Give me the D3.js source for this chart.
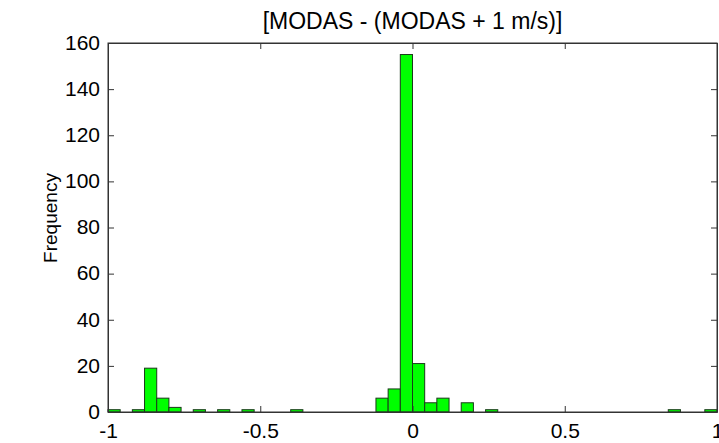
<!DOCTYPE html>
<html><head><meta charset="utf-8">
<script src="https://cdn.jsdelivr.net/npm/d3@7"></script>
<style>body{margin:0;background:#fff;} svg{display:block;}</style>
</head><body>
<script>
const title = "[MODAS - (MODAS + 1 m/s)]";
const yLabel = "Frequency";
// bin left edges (width 0.04) and counts
const binStart = [-1.00,-0.92,-0.88,-0.84,-0.80,-0.72,-0.64,-0.56,-0.40,-0.12,-0.08,-0.04,0.00,0.04,0.08,0.16,0.24,0.84,0.96];
const counts   = [1,1,19,6,2,1,1,1,1,6,10,155,21,4,6,4,1,1,1];
const binWidth = 0.04;
const xTicks = [-1,-0.5,0,0.5,1];
const xTickLabels = ["-1","-0.5","0","0.5","1"];
const yTicks = [0,20,40,60,80,100,120,140,160];

const W=719,H=443;
const m={l:108,r:2,t:43,b:31};
const svg=d3.select("body").append("svg").attr("width",W).attr("height",H);
const x=d3.scaleLinear().domain([-1,1]).range([m.l,W-m.r]);
const y=d3.scaleLinear().domain([0,160]).range([H-m.b,m.t]);
const font="'Liberation Sans', Arial, sans-serif";
const axCol="#333";

svg.append("g").selectAll("rect").data(binStart).join("rect")
  .attr("x",(d)=>x(d)).attr("width",(d)=>x(d+binWidth)-x(d))
  .attr("y",(d,i)=>y(counts[i])).attr("height",(d,i)=>y(0)-y(counts[i]))
  .attr("fill","#00ff00").attr("stroke","#1a3a1a").attr("stroke-width",1);

// frame
svg.append("rect").attr("x",x(-1)).attr("y",y(160)).attr("width",x(1)-x(-1)).attr("height",y(0)-y(160))
  .attr("fill","none").attr("stroke",axCol).attr("stroke-width",1);

const tl=6;
const xb=svg.append("g").attr("transform",`translate(0,${y(0)})`)
  .call(d3.axisBottom(x).tickValues(xTicks).tickFormat((d,i)=>xTickLabels[i]).tickSizeInner(-tl).tickSizeOuter(0).tickPadding(11));
const xt=svg.append("g").attr("transform",`translate(0,${y(160)})`)
  .call(d3.axisTop(x).tickValues(xTicks).tickFormat("").tickSizeInner(-tl).tickSizeOuter(0));
const yl=svg.append("g").attr("transform",`translate(${x(-1)},0)`)
  .call(d3.axisLeft(y).tickValues(yTicks).tickSizeInner(-tl).tickSizeOuter(0).tickPadding(8));
const yr=svg.append("g").attr("transform",`translate(${x(1)},0)`)
  .call(d3.axisRight(y).tickValues(yTicks).tickFormat("").tickSizeInner(-tl).tickSizeOuter(0));
[xb,xt,yl,yr].forEach(g=>{
  g.select(".domain").attr("stroke",axCol);
  g.selectAll(".tick line").attr("stroke",axCol);
  g.selectAll("text").attr("font-family",font).attr("font-size",21).attr("fill","#000");
});
yl.selectAll("text").attr("dy","0.3em");

svg.append("text").attr("x",(x(-1)+x(1))/2).attr("y",29).attr("text-anchor","middle")
  .attr("font-family",font).attr("font-size",23).text(title);
svg.append("text").attr("transform",`translate(57,218) rotate(-90)`)
  .attr("text-anchor","middle").attr("font-family",font).attr("font-size",19).text(yLabel);
</script>
</body></html>
